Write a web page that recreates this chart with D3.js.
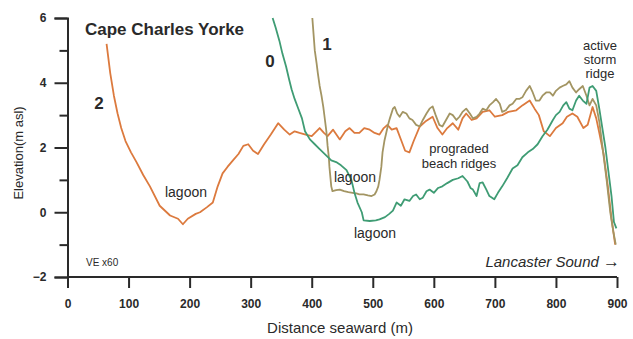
<!DOCTYPE html>
<html><head><meta charset="utf-8">
<script src="https://cdn.jsdelivr.net/npm/d3@7"></script>
<style>
html,body{margin:0;padding:0;background:#fff;}
svg{display:block;font-family:"Liberation Sans",Arial,Helvetica,sans-serif;}
</style></head>
<body>
<svg id="c" width="633" height="339"></svg>
<script>
// ---- data ----
const xTicks = [0,100,200,300,400,500,600,700,800,900];
const yMajor = [-2,0,2,4,6];
const yMinor = [-1,1,3,5];

// Profile 2 (orange)
const p2x = [64,70,76,82,88,95,104,113,124,135,151,168,181,189,197,210,217,228,238,246,254,262,271,280,288,296,304,312,322,333,345,355,364,372,380,390,400,413,420,426,435,446,455,462,470,478,486,495,503,511,518,524,531,539,547,553,560,567,577,586,598,606,614,622,631,640,647,653,662,670,680,691,700,712,722,735,745,757,765,772,780,790,800,811,818,827,835,845,852,860,866,871,878,885,891,897];
const p2y = [5.2,4.3,3.6,3.05,2.6,2.2,1.85,1.55,1.15,0.8,0.2,-0.1,-0.2,-0.37,-0.2,-0.05,0,0.15,0.3,0.8,1.2,1.4,1.6,1.8,2.05,2.1,1.9,1.8,2.1,2.4,2.75,2.55,2.4,2.5,2.45,2.4,2.35,2.6,2.45,2.35,2.55,2.25,2.5,2.6,2.45,2.45,2.6,2.55,2.45,2.4,2.6,2.7,2.55,2.6,2.2,1.9,1.85,2.2,2.65,2.8,2.95,2.6,2.4,2.6,2.75,2.55,2.9,3.05,2.85,2.9,3.1,3.15,2.95,3.0,3.1,3.15,3.3,3.45,3.2,3.0,2.5,2.35,2.6,2.75,2.95,3.05,2.95,2.6,2.7,3.25,2.9,2.45,1.8,0.8,-0.2,-1.0];

// Profile 0 (green)
const p0x = [336,341,347,352,358,363,367,372,377,384,389,397,405,413,424,432,440,448,457,465,470,475,482,485,495,505,511,520,527,533,539,546,552,560,566,571,577,582,588,593,600,607,614,622,631,640,647,655,660,664,670,675,680,686,691,699,705,712,720,729,737,745,754,762,770,778,786,795,800,806,812,817,822,827,833,838,844,850,855,860,866,871,876,881,887,891,895,899];
const p0y = [6,5.7,5.3,4.9,4.5,4.1,3.8,3.5,3.25,2.9,2.5,2.25,2.1,1.95,1.75,1.6,1.55,1.45,1.3,1.0,0.6,0.3,0.0,-0.25,-0.27,-0.25,-0.22,-0.15,-0.05,0.05,0.3,0.2,0.4,0.35,0.5,0.55,0.4,0.45,0.65,0.7,0.6,0.75,0.8,0.9,1.0,1.05,1.12,0.95,0.75,0.7,0.5,0.9,0.92,0.7,0.5,0.4,0.6,0.8,1.05,1.35,1.45,1.7,1.85,1.95,2.1,2.35,2.55,2.85,3.0,3.1,3.3,3.4,3.2,3.15,3.45,3.6,3.45,3.35,3.85,3.9,3.75,3.2,2.6,2.0,1.1,0.5,-0.3,-0.5];

// Profile 1 (olive)
const p1x = [401,403,405,408,410,413,416,419,421,424,426,428,429,431,432,434,440,446,453,460,467,473,478,485,492,498,503,506,509,511,514,516,519,522,525,528,533,536,540,544,549,555,560,565,571,577,582,588,593,598,603,609,614,620,626,631,637,642,647,653,659,664,670,675,680,686,691,697,702,708,712,718,724,729,735,740,745,751,757,762,767,773,778,784,790,795,800,806,811,817,822,827,833,838,844,850,855,860,866,871,877,883,889,894,898];
const p1y = [6,5.5,5.0,4.6,4.3,3.9,3.6,3.25,2.95,2.5,2.05,1.7,1.4,1.0,0.8,0.65,0.68,0.7,0.65,0.62,0.6,0.58,0.55,0.55,0.52,0.5,0.55,0.65,0.8,1.0,1.4,1.85,2.2,2.45,2.7,2.9,3.2,3.25,3.05,2.95,3.1,3.05,2.9,2.85,2.7,2.65,2.85,3.05,3.2,3.27,3.0,2.7,2.65,2.85,3.05,3.0,2.85,2.95,3.1,3.2,3.05,2.9,2.95,3.05,3.2,3.15,3.3,3.4,3.5,3.35,3.1,3.15,3.3,3.35,3.5,3.5,3.55,3.75,3.9,3.7,3.45,3.45,3.6,3.7,3.7,3.6,3.75,3.85,3.9,3.95,4.05,3.85,3.7,3.8,3.9,3.6,3.3,3.5,3.3,2.8,1.9,1.0,0.0,-0.6,-1.0];

const colOrange = "#dc7a3e", colGreen = "#3f9c74", colOlive = "#a39563";

// ---- chart ----
const svg = d3.select("#c");
const x = d3.scaleLinear().domain([0,900]).range([67.5,617]);
const y = d3.scaleLinear().domain([-2,6]).range([277,18]);
const ink = "#2a2a2a";

const line = d3.line().x(d=>x(d[0])).y(d=>y(d[1]));
const zip = (a,b)=>a.map((v,i)=>[v,b[i]]);

const series = [
  {pts: zip(p2x,p2y), c: colOrange},
  {pts: zip(p1x,p1y), c: colOlive},
  {pts: zip(p0x,p0y), c: colGreen}
];
svg.append("g").selectAll("path").data(series).join("path")
  .attr("d", d=>line(d.pts)).attr("fill","none")
  .attr("stroke", d=>d.c).attr("stroke-width",1.8).attr("stroke-linejoin","round");

// axes
const gl = svg.append("g").attr("transform",`translate(${x(0)},0)`);
gl.call(d3.axisLeft(y).tickValues(yMajor).tickSize(13).tickPadding(8).tickFormat(d3.format("d")));
const glm = svg.append("g").attr("transform",`translate(${x(0)},0)`);
glm.call(d3.axisLeft(y).tickValues(yMinor).tickSize(8).tickFormat(""));
glm.select(".domain").remove();
const gb = svg.append("g").attr("transform",`translate(0,${y(-2)})`);
gb.call(d3.axisBottom(x).tickValues(xTicks).tickSize(11).tickPadding(11));
gb.select(".domain").attr("d",`M${x(0)},0H${x(900)}`);
svg.selectAll(".domain, .tick line").attr("stroke",ink).attr("stroke-width",2);
svg.selectAll(".tick text").attr("fill",ink).attr("font-size",12).attr("font-weight","bold")
  .attr("font-family","'Liberation Sans',Arial,sans-serif");

// axis titles
svg.append("text").attr("x",340).attr("y",333).attr("text-anchor","middle")
  .attr("font-size",15).attr("fill",ink).text("Distance seaward (m)");
svg.append("text").attr("transform","translate(23,153) rotate(-90)").attr("text-anchor","middle")
  .attr("font-size",13).attr("fill",ink).text("Elevation(m asl)");

// annotations
const ann = (tx,ty,str,opt={})=>svg.append("text").attr("x",tx).attr("y",ty)
  .attr("font-size",opt.size||12).attr("font-weight",opt.weight||"normal")
  .attr("font-style",opt.style||"normal").attr("text-anchor",opt.anchor||"start")
  .attr("fill",ink).text(str);
ann(85,35,"Cape Charles Yorke",{size:17,weight:"bold"});
ann(99,109,"2",{size:17,weight:"bold",anchor:"middle"});
ann(270,67,"0",{size:17,weight:"bold",anchor:"middle"});
ann(327,50,"1",{size:17,weight:"bold",anchor:"middle"});
ann(186,197,"lagoon",{size:14,anchor:"middle"});
ann(355,182,"lagoon",{size:14,anchor:"middle"});
ann(375,238,"lagoon",{size:14,anchor:"middle"});
ann(459,153,"prograded",{size:13,anchor:"middle"});
ann(459,168,"beach ridges",{size:13,anchor:"middle"});
ann(600,50,"active",{size:13,anchor:"middle"});
ann(600,64,"storm",{size:13,anchor:"middle"});
ann(600,78,"ridge",{size:13,anchor:"middle"});
ann(86,266,"VE x60",{size:10});
const ls = ann(620,267,"Lancaster Sound ",{size:15,style:"italic",anchor:"end"});
ls.append("tspan").attr("font-size",17).attr("font-style","normal").text("\u2192");
</script>
</body></html>
